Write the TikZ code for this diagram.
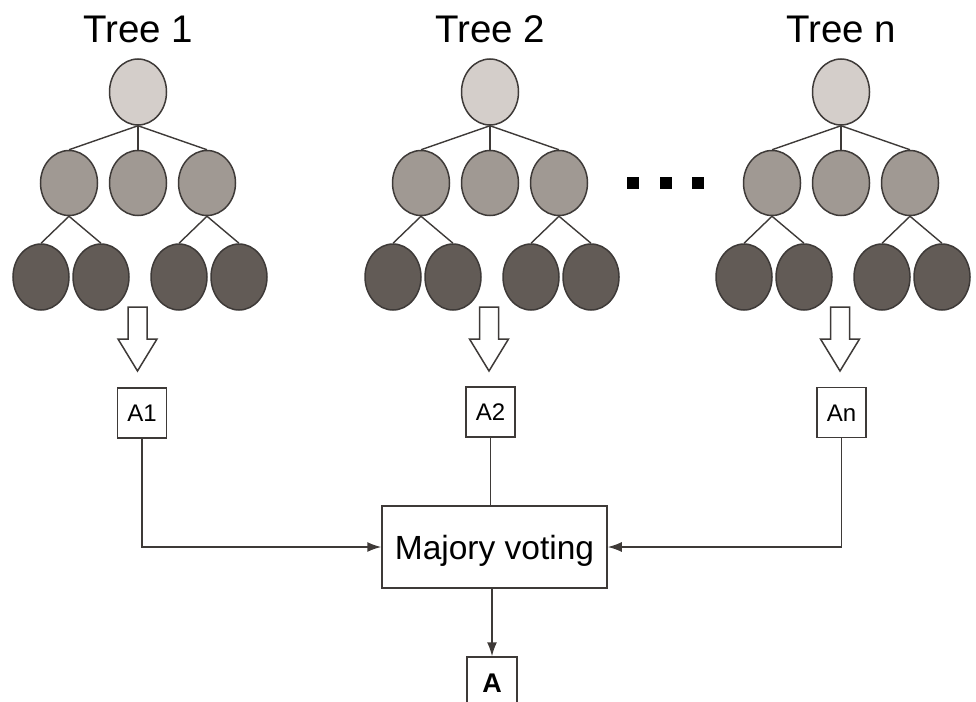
\documentclass[tikz,border=0pt]{standalone}
\usepackage{fontspec}
\setmainfont{Liberation Sans}
\usetikzlibrary{arrows.meta,calc,shapes.geometric}
\definecolor{rootc}{RGB}{212,206,202}
\definecolor{midc}{RGB}{160,153,147}
\definecolor{leafc}{RGB}{98,91,86}
\definecolor{linec}{RGB}{62,58,56}
\tikzset{
  ell/.style={draw=linec,line width=1.5pt,ellipse,inner sep=0pt},
  rootn/.style={ell,fill=rootc,minimum width=57pt,minimum height=66pt},
  midn/.style={ell,fill=midc,minimum width=57pt,minimum height=65pt},
  leafn/.style={ell,fill=leafc,minimum width=56pt,minimum height=66pt},
  edge/.style={draw=linec,line width=1.4pt},
  title/.style={font=\fontsize{38.5}{40}\selectfont,anchor=base,inner sep=0pt},
  abox/.style={draw=linec,line width=1.5pt,fill=white,minimum width=49pt,minimum height=50pt,inner sep=0pt,
     font=\fontsize{24}{26}\selectfont,text height=17pt,text depth=0pt},
  conn/.style={draw=linec,line width=1.5pt},
  arr/.style={conn,-{Latex[length=14pt,width=10pt]}},
  hollow/.style={draw=linec,line width=1.5pt,fill=white,line join=miter},
  dotn/.style={fill=black,minimum size=12pt,inner sep=0pt},
}
\newcommand\hollowarrow[1]{%
  \draw[hollow] ($(#1)+(-9.5,0)$) -- ($(#1)+(9.5,0)$) -- ($(#1)+(9.5,32)$) -- ($(#1)+(19.5,32)$)
    -- ($(#1)+(0,64)$) -- ($(#1)+(-19.5,32)$) -- ($(#1)+(-9.5,32)$) -- cycle;}
\begin{document}
\begin{tikzpicture}[x=1pt,y=-1pt]
\useasboundingbox (0,0) rectangle (976,701);
\foreach \t/\x in {1/138,2/490,n/841}{
  \node[title] (title\t) at (\x,43) {Tree \t};
  \node[rootn] (r\t) at (\x,92) {};
  \node[midn] (m\t a) at (\x-69,183) {};
  \node[midn] (m\t b) at (\x,183) {};
  \node[midn] (m\t c) at (\x+69,183) {};
  \node[leafn] (l\t a) at (\x-97,277) {};
  \node[leafn] (l\t b) at (\x-37,277) {};
  \node[leafn] (l\t c) at (\x+41,277) {};
  \node[leafn] (l\t d) at (\x+101,277) {};
  \draw[edge] (r\t.south) -- (m\t a.north);
  \draw[edge] (r\t.south) -- (m\t b.north);
  \draw[edge] (r\t.south) -- (m\t c.north);
  \draw[edge] (m\t a.south) -- (l\t a.north);
  \draw[edge] (m\t a.south) -- (l\t b.north);
  \draw[edge] (m\t c.south) -- (l\t c.north);
  \draw[edge] (m\t c.south) -- (l\t d.north);
}
\node[dotn] (d1) at (633,183) {};
\node[dotn] (d2) at (666,183) {};
\node[dotn] (d3) at (698,183) {};
% hollow arrows
\coordinate (h1) at (137.5,307);
\coordinate (h2) at (489,307);
\coordinate (hn) at (840,307);
\hollowarrow{h1}
\hollowarrow{h2}
\hollowarrow{hn}
% result boxes
\node[abox] (a1) at (142,413) {A1};
\node[abox] (a2) at (490.5,412) {A2};
\node[abox] (an) at (841.5,412.5) {An};
\node[draw=linec,line width=1.5pt,fill=white,minimum width=225pt,minimum height=82pt,inner sep=0pt,
  font=\fontsize{33.5}{36}\selectfont,text height=24pt,text depth=0pt] (mv) at (494.5,547) {Majory voting};
\node[abox,minimum width=50pt,font=\fontsize{27}{29}\bfseries,text height=20pt] (af) at (492,682) {A};
% connectors
\draw[arr] (a1.south) |- (mv.west);
\draw[arr] (an.south) |- (mv.east);
\draw[conn] (a2.south) -- (a2.south |- mv.north);
\draw[arr] (af.north |- mv.south) -- (af.north);
\end{tikzpicture}
\end{document}
